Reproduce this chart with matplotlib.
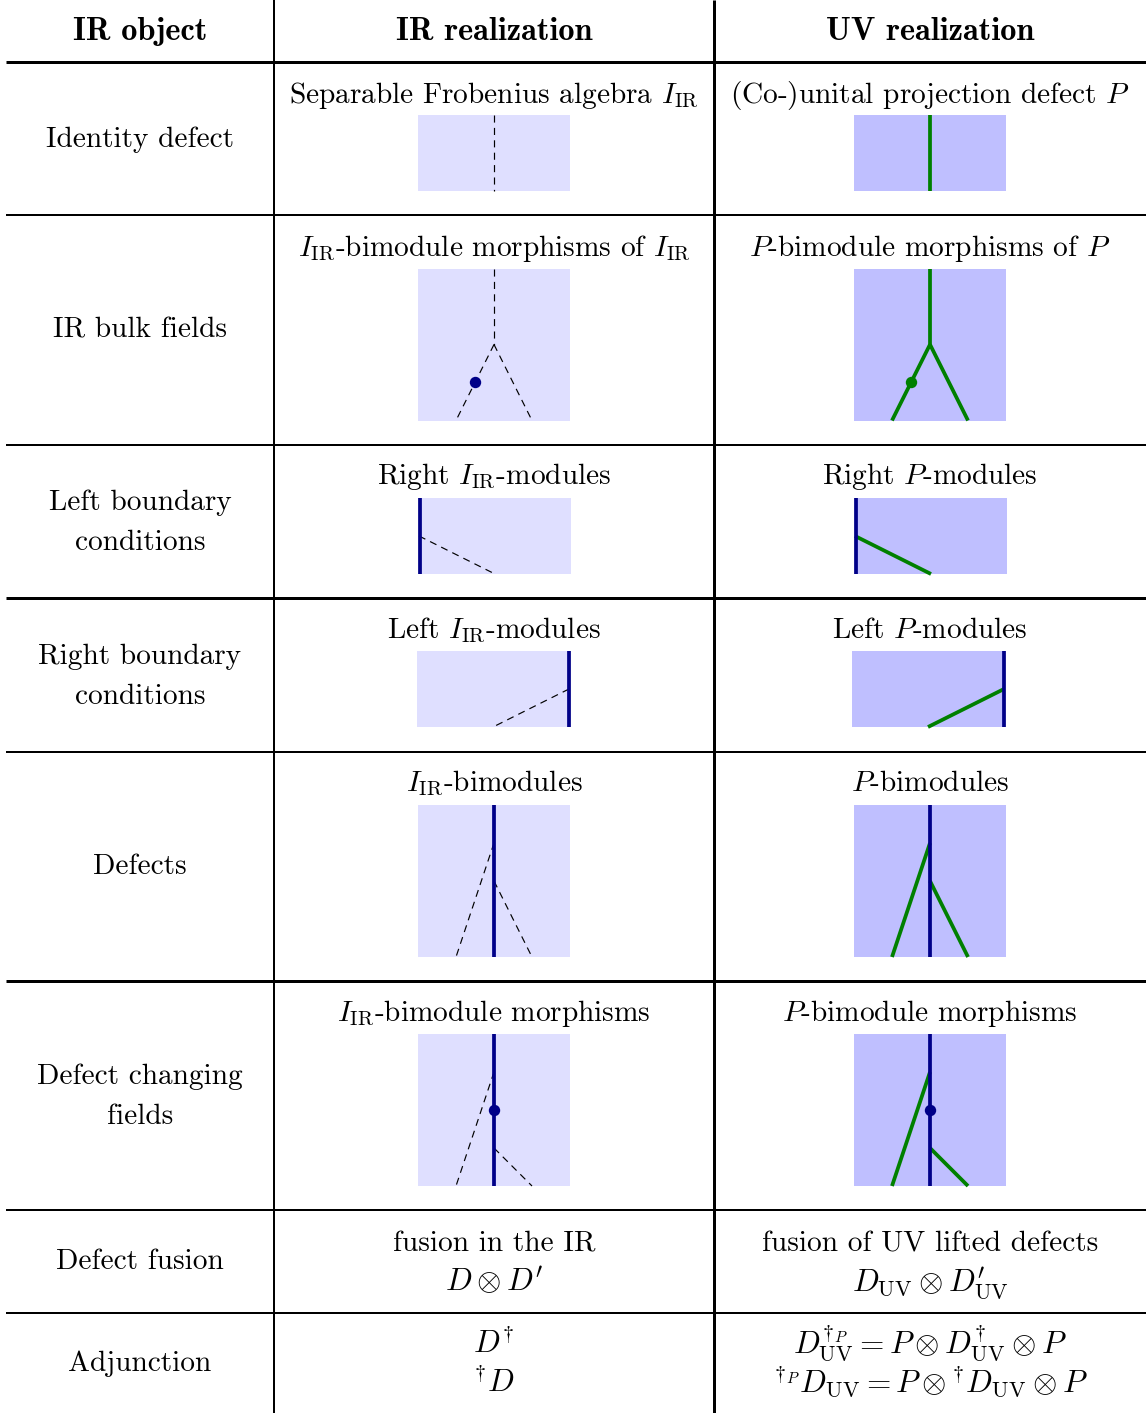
import matplotlib
matplotlib.use("Agg")
import matplotlib.pyplot as plt
from matplotlib.patches import Rectangle

W, H = 1146, 1413
plt.rcParams['font.family'] = ['cmr10']
plt.rcParams['mathtext.fontset'] = 'cm'
plt.rcParams['axes.unicode_minus'] = False

IR_FILL, UV_FILL = '#DFDFFF', '#BFBFFF'
NAVY, GREEN = '#000088', '#008000'
FS = 21.1
FS_MATH = 22.6

headers = ['IR object', 'IR realization', 'UV realization']
row_labels = [
    ['Identity defect'], ['IR bulk fields'], ['Left boundary', 'conditions'],
    ['Right boundary', 'conditions'], ['Defects'], ['Defect changing', 'fields'],
    ['Defect fusion'], ['Adjunction'],
]
row_label_base = [[147], [338], [510, 550], [664, 704], [874], [1084, 1124], [1269], [1371]]
ir_text = [
    [r'Separable Frobenius algebra $I_{\mathrm{IR}}$'],
    [r'$I_{\mathrm{IR}}$-bimodule morphisms of $I_{\mathrm{IR}}$'],
    [r'Right $I_{\mathrm{IR}}$-modules'],
    [r'Left $I_{\mathrm{IR}}$-modules'],
    [r'$I_{\mathrm{IR}}$-bimodules'],
    [r'$I_{\mathrm{IR}}$-bimodule morphisms'],
    ['fusion in the IR', r"$D\otimes D^{\prime}$"],
    [r'$D^{\dagger}$', r'${}^{\dagger}D$'],
]
uv_text = [
    [r'(Co-)unital projection defect $P$'],
    [r'$P$-bimodule morphisms of $P$'],
    [r'Right $P$-modules'],
    [r'Left $P$-modules'],
    [r'$P$-bimodules'],
    [r'$P$-bimodule morphisms'],
    ['fusion of UV lifted defects', r"$D_{\mathrm{UV}}\otimes D^{\prime}_{\mathrm{UV}}$"],
    [r'$D_{\mathrm{UV}}^{\dagger_P}=P\otimes D_{\mathrm{UV}}^{\dagger}\otimes P$',
     r'${}^{\dagger_P}D_{\mathrm{UV}}=P\otimes {}^{\dagger}D_{\mathrm{UV}}\otimes P$'],
]
text_base = [[103], [256], [484], [638], [791], [1021], [1251, 1291], [1353, 1392]]

h_rules = [(62, 3), (215, 2), (445, 2), (598, 3), (752, 2), (981, 3), (1210, 2), (1313, 2)]
v_rules = [(274, 2), (714, 3)]

# box: left IR, left UV, top, width, height
boxes = [
    (418, 854, 115, 152, 76), (418, 854, 268.5, 152, 152), (419, 855, 498, 152, 76),
    (417, 852, 651, 152, 76), (418, 854, 805, 152, 152), (418, 854, 1034, 152, 152),
]
# segments in box coordinates: (x0, y0, x1, y1)
folds = [
    [(76, 0, 76, 76)],
    [(76, 0, 76, 76), (76, 76, 38, 152), (76, 76, 114, 152)],
    [(0, 38, 76, 76)],
    [(152, 38, 76, 76)],
    [(76, 38, 38, 152), (76, 76, 114, 152)],
    [(76, 38, 38, 152), (76, 114, 114, 152)],
]
defects = [[], [], [(0.5, 0, 0.5, 76)], [(151.5, 0, 151.5, 76)], [(76, 0, 76, 152)], [(76, 0, 76, 152)]]
dots = [[], [(57, 113)], [], [], [], [(76, 76)]]

fig = plt.figure(figsize=(W / 100, H / 100), dpi=100)
ax = fig.add_axes([0, 0, 1, 1])
ax.set_xlim(0, W)
ax.set_ylim(H, 0)
ax.axis('off')

for y, lw in h_rules:
    ax.plot([6, W], [y, y], color='k', lw=lw * .72, solid_capstyle='butt')
for x, lw in v_rules:
    ax.plot([x, x], [0, H], color='k', lw=lw * .72, solid_capstyle='butt')


def put(x, y, s, size=FS, **kw):
    ax.text(x, y, s, ha='center', va='baseline', fontsize=size, color='k', **kw)


for x, s in zip([140, 494, 930], headers):
    put(x, 40, s, size=23.3, family='cmb10')
for labels, bases in zip(row_labels, row_label_base):
    for s, y in zip(labels, bases):
        put(140, y, s)
for rows, xc in ((ir_text, 494), (uv_text, 930)):
    for r, (lines, bases) in enumerate(zip(rows, text_base)):
        for s, y in zip(lines, bases):
            math_only = s.startswith('$') and s.endswith('$') and r >= 6
            put(xc, y, s, size=FS_MATH if math_only else FS)

for i, (xi, xu, top, w, h) in enumerate(boxes):
    for x0, fill, uv in ((xi, IR_FILL, False), (xu, UV_FILL, True)):
        ax.add_patch(Rectangle((x0, top), w, h, fc=fill, ec='none', zorder=1))
        for a, b, c, d in folds[i]:
            if uv:
                ax.plot([x0 + a, x0 + c], [top + b, top + d], color=GREEN, lw=2.7, solid_capstyle='butt', zorder=2)
            else:
                ax.plot([x0 + a, x0 + c], [top + b, top + d], color='k', lw=0.85, dashes=(6, 4.5),
                        dash_capstyle='butt', zorder=2)
        for a, b, c, d in defects[i]:
            ax.plot([x0 + a, x0 + c], [top + b, top + d], color=NAVY, lw=2.7, solid_capstyle='butt', zorder=3)
        for a, b in dots[i]:
            col = GREEN if (uv and i == 1) else NAVY
            ax.plot([x0 + a], [top + b], 'o', color=col, ms=8.2, mew=0, zorder=4)

fig.savefig('out.png', dpi=100)
